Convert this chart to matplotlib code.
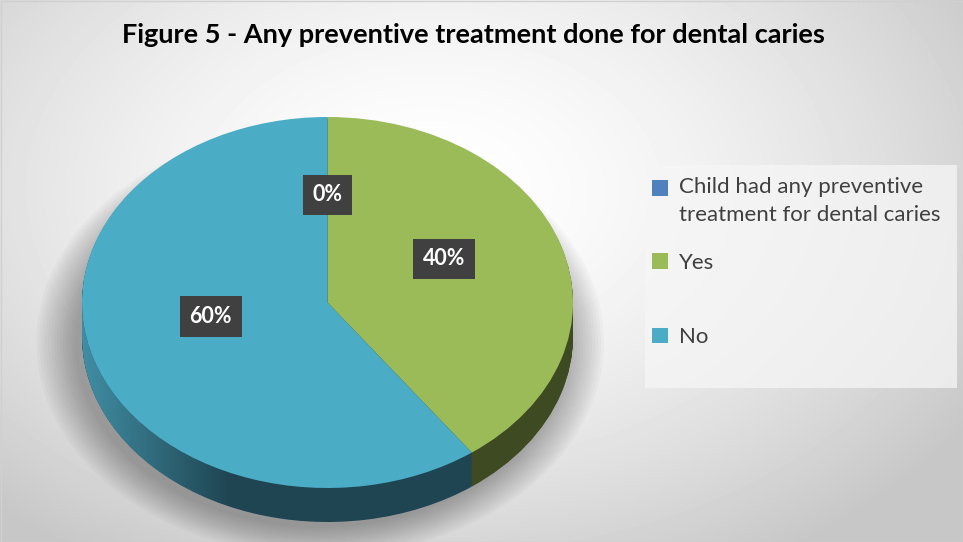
import numpy as np
import matplotlib
matplotlib.use('Agg')
import matplotlib.pyplot as plt
from matplotlib.patches import Rectangle, Ellipse, PathPatch
from matplotlib.path import Path

title = "Figure 5 - Any preventive treatment done for dental caries"
categories = ["Child had any preventive\ntreatment for dental caries", "Yes", "No"]
values = [0, 40, 60]
top_colors = ["#4f81bd", "#9bbb59", "#4bacc6"]
side_colors = ["#2a4566", "#3d4a22", "#1f4552"]

plt.rcParams['font.family'] = ['Lato', 'DejaVu Sans']

W, H = 963, 542
fig = plt.figure(figsize=(W / 100, H / 100), dpi=100)

# background, light radial gradient
bg = fig.add_axes([0, 0, 1, 1])
yy, xx = np.mgrid[0:H, 0:W]
r = np.hypot((xx - 430) / 640.0, (yy - 190) / 430.0)
shade = np.clip(1 - 0.22 * r ** 1.6, 0.78, 1)
bg.imshow(shade, cmap='gray', vmin=0, vmax=1, extent=[0, W, 0, H],
          origin='upper', aspect='auto', interpolation='bilinear')
bg.set_xlim(0, W)
bg.set_ylim(0, H)
bg.axis('off')
bg.add_patch(Rectangle((0.5, 0.5), W - 1, H - 1, fill=False, ec='#d0d0d0', lw=1))
# legend panel
bg.add_patch(Rectangle((645, H - 388), 312, 223, fc='#f6f6f6', ec='none', alpha=0.75))

fig.text(473 / W, 1 - 35 / H, title, ha='center', va='center',
         fontsize=19.5, fontweight='bold', color='black')

# pie axes (3D look: squashed ellipse + side layers)
depth = 34 / 185.5
ax = fig.add_axes([82 / W, 20 / H, 491 / W, 405 / H])

# soft shadow under the pie
for k in range(14):
    s = 1 + 0.012 * k
    ax.add_patch(Ellipse((-0.03, -depth - 0.03), 2 * s, 2 * s, fc='black',
                         ec='none', alpha=0.022, zorder=0, clip_on=False))

for d in np.linspace(depth, 0.005, 40):
    ax.pie(values, radius=1, center=(0, -d), startangle=90, counterclock=False,
           colors=side_colors, wedgeprops=dict(linewidth=0, zorder=1))

# lighter gradient on the left part of the side
t = np.linspace(np.pi, 2 * np.pi, 120)
xs = np.concatenate([np.cos(t), np.cos(t[::-1])])
ys = np.concatenate([np.sin(t), np.sin(t[::-1]) - depth])
clip = PathPatch(Path(np.column_stack([xs, ys])), fc='none', ec='none')
ax.add_patch(clip)
grad = np.linspace(0, 1, 256)[None, :]
rgba = np.zeros((1, 256, 4))
rgba[..., :3] = matplotlib.colors.to_rgb('#4596ad')
rgba[..., 3] = np.clip(1 - grad / 0.3, 0, 1) * 0.9
im = ax.imshow(rgba, extent=[-1, 1, -1 - depth, 0], aspect='auto', zorder=2,
               interpolation='bilinear')
im.set_clip_path(clip)

wedges, texts, autotexts = ax.pie(
    values, radius=1, startangle=90, counterclock=False, colors=top_colors,
    autopct=lambda p: f"{p:.0f}%", pctdistance=0.5,
    wedgeprops=dict(linewidth=0, zorder=3))
for w in wedges:
    w.set_zorder(3)
for at in autotexts:
    at.set_y(at.get_position()[1] + 0.08)
    at.set_color('white')
    at.set_fontsize(15.5)
    at.set_fontweight('bold')
    at.set_zorder(5)
    at.set_bbox(dict(boxstyle='square,pad=0.45', fc='#404040', ec='none'))

ax.set_aspect('auto')
ax.set_xlim(-1, 1)
ax.set_ylim(-1 - depth, 1)
ax.axis('off')

leg_kw = dict(loc='upper left', frameon=False, fontsize=16, labelcolor='#404040',
              handlelength=0.7, handleheight=0.7, handletextpad=0.5,
              borderpad=0, borderaxespad=0)
leg1 = fig.legend(wedges[:1], categories[:1], bbox_to_anchor=(652 / W, 1 - 177 / H),
                  **leg_kw)
leg1.get_texts()[0].set_linespacing(1.5)
# square next to the first line, as in the original
h = leg1.legend_handles[0]
h.set_y(h.get_y() + 9.7)
fig.legend(wedges[1:], categories[1:], bbox_to_anchor=(652 / W, 1 - 253 / H),
           labelspacing=2.45, **leg_kw)

fig.savefig('out.png', dpi=100)
